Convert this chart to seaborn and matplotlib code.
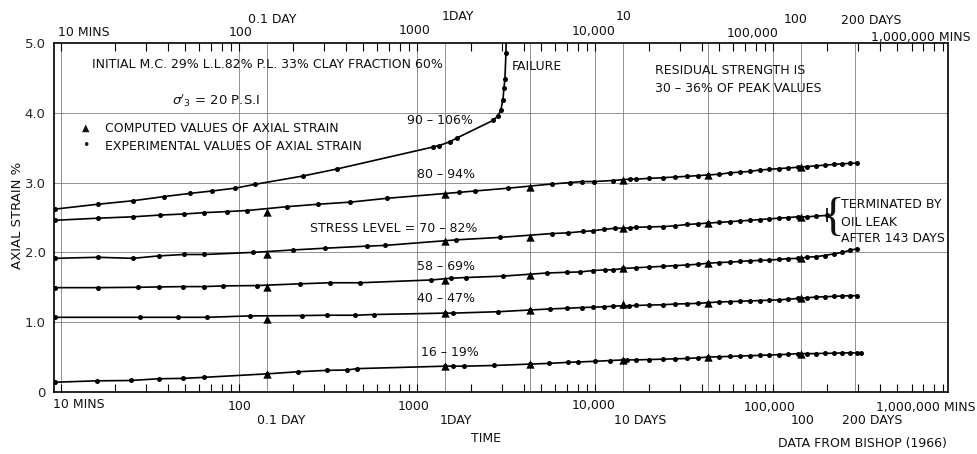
import numpy as np
import pandas as pd
import seaborn as sns
import matplotlib.pyplot as plt

sns.set_theme(style='white')
plt.rcParams['font.family'] = ['DejaVu Sans']
plt.rcParams['mathtext.fontset'] = 'dejavusans'

# ---- data (time in minutes, axial strain %) ----
late_t = [17000, 20000, 24000, 28000, 33000, 38000, 43200, 50000, 57000, 65000, 74000, 84000,
          95000, 108000, 122000, 138000, 155000, 175000, 195000, 220000, 245000, 270000, 295000]

# 16 - 19 %
a_t = [9.2, 15.9, 24.7, 35.5, 48.4, 63.6, 144, 214, 312, 405, 461, 1440, 1590, 1840, 2710,
       4320, 5520, 7050, 8050, 10000, 12100, 14400, 15100] + late_t + [312000]
a_s = [0.14, 0.16, 0.165, 0.19, 0.195, 0.21, 0.26, 0.29, 0.31, 0.315, 0.335, 0.37, 0.37, 0.37, 0.38,
       0.40, 0.41, 0.425, 0.43, 0.44, 0.45, 0.46, 0.46,
       0.46, 0.465, 0.47, 0.475, 0.48, 0.49, 0.50, 0.505, 0.51, 0.515, 0.52, 0.525,
       0.53, 0.535, 0.54, 0.55, 0.55, 0.55, 0.555, 0.555, 0.56, 0.56, 0.56, 0.56]

# 40 - 47 %
b_t = [9.25, 27.8, 45.4, 66, 115, 226, 312, 449, 573, 1440, 1590, 2850, 4320, 5590, 6960,
       8460, 9750, 11200, 12600, 14400, 15500] + late_t
b_s = [1.07, 1.07, 1.07, 1.07, 1.09, 1.095, 1.10, 1.10, 1.11, 1.13, 1.13, 1.15, 1.175, 1.19, 1.20,
       1.21, 1.215, 1.22, 1.23, 1.235, 1.235,
       1.24, 1.245, 1.25, 1.26, 1.265, 1.27, 1.28, 1.29, 1.295, 1.30, 1.305, 1.31,
       1.315, 1.32, 1.33, 1.34, 1.35, 1.36, 1.365, 1.37, 1.375, 1.38, 1.38]

# 58 - 69 %
c_t = [9.25, 16.1, 27, 35.5, 48.4, 63.6, 81, 126, 220, 324, 479, 1200, 1550, 1880, 3040,
       5370, 6960, 8240, 9750, 11400, 12600, 14400] + late_t
c_s = [1.495, 1.495, 1.50, 1.505, 1.51, 1.51, 1.52, 1.525, 1.55, 1.565, 1.565, 1.605, 1.63, 1.64, 1.66,
       1.705, 1.715, 1.72, 1.74, 1.75, 1.75, 1.77,
       1.78, 1.79, 1.80, 1.81, 1.82, 1.83, 1.845, 1.855, 1.86, 1.87, 1.88, 1.885,
       1.89, 1.90, 1.91, 1.915, 1.93, 1.94, 1.955, 1.98, 2.00, 2.03, 2.05]

# 70 - 82 %  (terminated by oil leak)
d_t = [9.25, 16.1, 25.4, 35.5, 49, 64, 120, 201, 304, 524, 661, 1660, 2930, 5730, 7050,
       8570, 9750, 11200, 12900, 15700] + late_t[:18] + [201000]
d_s = [1.915, 1.93, 1.915, 1.95, 1.97, 1.97, 2.0, 2.035, 2.06, 2.09, 2.10, 2.18, 2.215, 2.27, 2.28,
       2.30, 2.31, 2.33, 2.345, 2.35,
       2.36, 2.365, 2.37, 2.38, 2.40, 2.41, 2.42, 2.43, 2.44, 2.45, 2.46, 2.47,
       2.48, 2.49, 2.50, 2.51, 2.51, 2.52, 2.53]

# 80 - 94 %
e_t = [9.25, 16.1, 25.4, 36, 49, 64, 86, 111, 186, 278, 421, 678, 1720, 2120, 3250,
       5730, 7240, 8460, 9870, 12600, 15700] + late_t
e_s = [2.46, 2.49, 2.51, 2.535, 2.55, 2.57, 2.585, 2.60, 2.655, 2.69, 2.72, 2.775, 2.86, 2.88, 2.92,
       2.98, 3.00, 3.015, 3.015, 3.03, 3.05,
       3.05, 3.06, 3.07, 3.08, 3.09, 3.10, 3.11, 3.12, 3.14, 3.15, 3.16, 3.18,
       3.19, 3.20, 3.21, 3.22, 3.23, 3.24, 3.25, 3.26, 3.27, 3.275, 3.28]

# 90 - 106 %  (failure)
f_t = [9.25, 16.1, 25.4, 38, 53, 70.5, 95, 123, 229, 355, 1230, 1330, 1530, 1680, 2670,
       2850, 2960, 3040, 3080, 3120, 3160]
f_s = [2.62, 2.69, 2.74, 2.80, 2.845, 2.88, 2.92, 2.975, 3.095, 3.195, 3.51, 3.53, 3.585, 3.64, 3.89,
       3.955, 4.04, 4.19, 4.35, 4.49, 4.85]
fail_t = [3170]
fail_s = [5.0]

# computed values (triangles)
comp_t = [144, 1440, 4320, 14400, 43200, 144000]
comp_a = [0.26, 0.37, 0.40, 0.46, 0.50, 0.55]
comp_b = [1.04, 1.13, 1.175, 1.26, 1.28, 1.34]
comp_c = [1.50, 1.605, 1.68, 1.77, 1.845, 1.915]
comp_d = [1.98, 2.17, 2.215, 2.345, 2.42, 2.51]
comp_e = [2.585, 2.84, 2.93, 3.04, 3.11, 3.22]

grid_t = [10, 100, 144, 1000, 1440, 4320, 10000, 14400, 43200, 100000, 144000, 288000]
y_ticks = [0, 1, 2, 3, 4, 5]
y_labels = ['0', '1.0', '2.0', '3.0', '4.0', '5.0']

# ---- frames ----
curves = {'16-19': (a_t, a_s), '40-47': (b_t, b_s), '58-69': (c_t, c_s),
          '70-82': (d_t, d_s), '80-94': (e_t, e_s), '90-106': (f_t, f_s)}
dots = pd.concat([pd.DataFrame({'t': t, 's': s, 'curve': k}) for k, (t, s) in curves.items()])
lines = pd.concat([dots, pd.DataFrame({'t': fail_t, 's': fail_s, 'curve': '90-106'})])
comp = pd.concat([pd.DataFrame({'t': comp_t, 's': v}) for v in [comp_a, comp_b, comp_c, comp_d, comp_e]])

fig = plt.figure(figsize=(9.77, 4.54), dpi=100)
ax = fig.add_axes([54 / 977, 62 / 454, 894 / 977, 349 / 454])

for t in grid_t:
    ax.axvline(t, color='0.5', lw=0.6, zorder=0)
for y in [1, 2, 3, 4]:
    ax.axhline(y, color='0.5', lw=0.6, zorder=0)

sns.lineplot(data=lines, x='t', y='s', units='curve', estimator=None, sort=False,
             color='black', lw=1.2, ax=ax, legend=False)
sns.scatterplot(data=dots, x='t', y='s', color='black', s=13, linewidth=0, ax=ax, legend=False, zorder=3)
sns.scatterplot(data=comp, x='t', y='s', color='black', marker='^', s=36, linewidth=0, ax=ax,
                legend=False, zorder=4)
sns.scatterplot(x=d_t[-1:], y=d_s[-1:], color='black', marker='|', s=90, linewidth=1.2, ax=ax,
                legend=False, zorder=4)

ax.set_xscale('log')
ax.set_xlim(9.14, 9.62e5)
ax.set_ylim(0, 5)
ax.set_xlabel('')
ax.set_ylabel('')
ax.tick_params(axis='x', which='both', direction='in', top=True, bottom=True,
               labelbottom=False, labeltop=False, length=6, width=0.8, color='black')
ax.set_yticks(y_ticks)
ax.set_yticklabels(y_labels, fontsize=9.5)
ax.tick_params(axis='y', length=0, pad=6)
for sp in ax.spines.values():
    sp.set_color('black')
    sp.set_linewidth(1.2)


def put(s, px, py, ha='center', fs=9, **kw):
    ax.text((px - 54) / 894, (392 - py) / 349, s, transform=ax.transAxes, ha=ha, va='center',
            fontsize=fs, clip_on=False, color='#111111', **kw)


# axis labels (bottom)
put('10 MINS', 79, 404)
put('100', 240, 406)
put('0.1 DAY', 281, 420)
put('1000', 414, 406)
put('1DAY', 456, 420)
put('10,000', 594, 406)
put('10 DAYS', 640, 420)
put('100,000', 770, 407)
put('100', 803, 420)
put('200 DAYS', 872, 420)
put('1,000,000 MINS', 926, 408)
put('TIME', 486, 438)
put('DATA FROM BISHOP (1966)', 862, 444)
# axis labels (top)
put('10 MINS', 84, 33)
put('100', 241, 32)
put('0.1 DAY', 272, 20)
put('1000', 415, 30)
put('1DAY', 458, 16)
put('10,000', 594, 32)
put('10', 624, 16)
put('100,000', 753, 33)
put('100', 796, 20)
put('200 DAYS', 871, 21)
put('1,000,000 MINS', 921, 37)
put('AXIAL STRAIN %', 18, 215, fs=9.5, rotation=90)

# annotations
put('INITIAL M.C. 29% L.L.82% P.L. 33% CLAY FRACTION 60%', 92, 65, ha='left')
put('FAILURE', 512, 66, ha='left')
put(r"$\sigma'_3$ = 20 P.S.I", 172, 101, ha='left', fs=9.5)
put('\u25B2', 86, 128, fs=7)
put('COMPUTED VALUES OF AXIAL STRAIN', 105, 128, ha='left')
put('\u2022', 86, 146, fs=9)
put('EXPERIMENTAL VALUES OF AXIAL STRAIN', 105, 146, ha='left')
put('90 \u2013 106%', 440, 121)
put('80 \u2013 94%', 446, 175)
put('STRESS LEVEL = 70 \u2013 82%', 477, 229, ha='right')
put('58 \u2013 69%', 446, 267)
put('40 \u2013 47%', 446, 298)
put('16 \u2013 19%', 450, 353)
put('RESIDUAL STRENGTH IS', 655, 71, ha='left')
put('30 \u2013 36% OF PEAK VALUES', 655, 88, ha='left')
put('{', 833, 219, fs=34, family='Liberation Serif')
put('TERMINATED BY', 841, 205, ha='left')
put('OIL LEAK', 841, 222, ha='left')
put('AFTER 143 DAYS', 841, 239, ha='left')

fig.savefig('out.png', dpi=100)
